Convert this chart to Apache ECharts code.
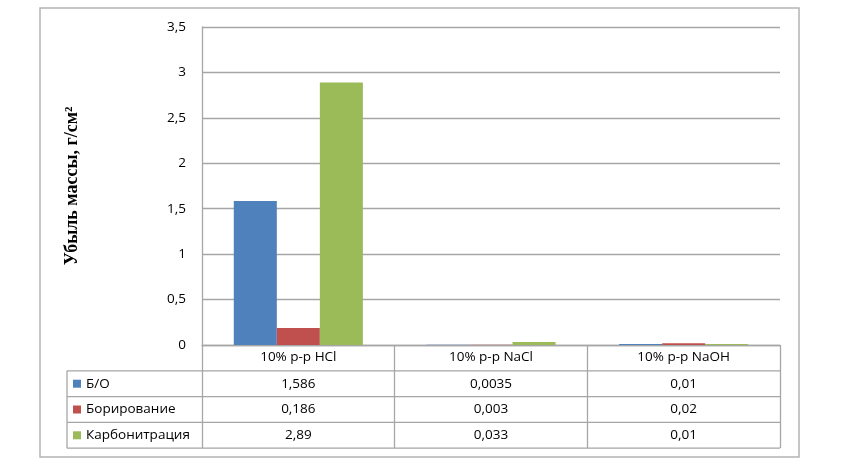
<!DOCTYPE html>
<html lang="ru">
<head>
    <meta charset="UTF-8">
    <title>Убыль массы</title>
    <script src="https://cdn.jsdelivr.net/npm/echarts@6/dist/echarts.min.js"></script>
    <style>
        html, body { margin: 0; padding: 0; background: #fff; }
    </style>
</head>
<body>

    <div id="main" style="width: 842px;height:470px;"></div>

    <script type="text/javascript">
        // данные
        var categories = ['10% р-р HCl', '10% р-р NaCl', '10% р-р NaOH'];
        var seriesNames = ['Б/О', 'Борирование', 'Карбонитрация'];
        var boData = [1.586, 0.0035, 0.01];
        var borData = [0.186, 0.003, 0.02];
        var karbData = [2.89, 0.033, 0.01];
        var colors = ['#4F81BD', '#C0504D', '#9BBB59'];

        var allData = [boData, borData, karbData];
        var font = '"Open Sans", "Liberation Sans", sans-serif';
        var lineColor = '#a6a6a6';
        var fs = 13.5;

        function comma(v) {
            return String(v).replace('.', ',');
        }

        var myChart = echarts.init(document.getElementById('main'));

        var option = {
            animation: false,
            grid: { left: 202, right: 62, top: 27, bottom: 125 },
            xAxis: {
                type: 'category',
                data: categories,
                axisLine: { lineStyle: { color: lineColor, width: 1.3 } },
                axisTick: { show: true, length: 103, lineStyle: { color: lineColor, width: 1.3 } },
                axisLabel: { margin: 5, fontSize: fs, color: '#000', fontFamily: font }
            },
            yAxis: {
                type: 'value',
                min: 0,
                max: 3.5,
                interval: 0.5,
                name: 'Убыль массы, г/см²',
                nameLocation: 'middle',
                nameGap: 121,
                nameTextStyle: {
                    fontFamily: '"Liberation Serif", "DejaVu Serif", serif',
                    fontWeight: 'bold',
                    fontSize: 18,
                    color: '#000'
                },
                axisLine: { show: true, lineStyle: { color: lineColor, width: 1.3 } },
                axisTick: { show: false },
                axisLabel: {
                    margin: 16,
                    fontSize: 13.5,
                    color: '#000',
                    fontFamily: font,
                    formatter: function (v) { return comma(v); }
                },
                splitLine: { lineStyle: { color: lineColor, width: 1.3 } }
            },
            series: seriesNames.map(function (name, i) {
                return {
                    name: name,
                    type: 'bar',
                    data: allData[i],
                    barGap: '0%',
                    barCategoryGap: '33%',
                    itemStyle: { color: colors[i] }
                };
            })
        };

        myChart.setOption(option);

        // таблица данных под графиком
        var y0 = myChart.convertToPixel({ yAxisIndex: 0 }, 0);
        var rowH = 25.8;
        var tableLeft = 67;
        var tableRight = 780;
        var graphic = [];

        // внешняя рамка
        graphic.push({
            type: 'rect',
            shape: { x: 40, y: 8, width: 759, height: 449 },
            style: { fill: null, stroke: '#b4b4b4', lineWidth: 1.5 },
            silent: true
        });

        for (var r = 1; r <= 4; r++) {
            graphic.push({
                type: 'line',
                shape: { x1: tableLeft, y1: y0 + r * rowH, x2: tableRight, y2: y0 + r * rowH },
                style: { stroke: lineColor, lineWidth: 1.3 }
            });
        }
        graphic.push({
            type: 'line',
            shape: { x1: tableLeft, y1: y0 + rowH, x2: tableLeft, y2: y0 + 4 * rowH },
            style: { stroke: lineColor, lineWidth: 1.3 }
        });

        seriesNames.forEach(function (name, i) {
            var cy = y0 + rowH * (i + 1.5);
            graphic.push({
                type: 'rect',
                shape: { x: 73, y: cy - 4, width: 8, height: 8 },
                style: { fill: colors[i] }
            });
            graphic.push({
                type: 'text',
                x: 86, y: cy,
                style: { text: name, fontSize: fs, fontFamily: font, fill: '#000', textVerticalAlign: 'middle' }
            });
            categories.forEach(function (cat, j) {
                var cx = myChart.convertToPixel({ xAxisIndex: 0 }, cat);
                graphic.push({
                    type: 'text',
                    x: cx, y: cy,
                    style: {
                        text: comma(allData[i][j]), fontSize: fs, fontFamily: font, fill: '#000',
                        textAlign: 'center', textVerticalAlign: 'middle'
                    }
                });
            });
        });

        myChart.setOption({ graphic: graphic });
    </script>
</body>
</html>
